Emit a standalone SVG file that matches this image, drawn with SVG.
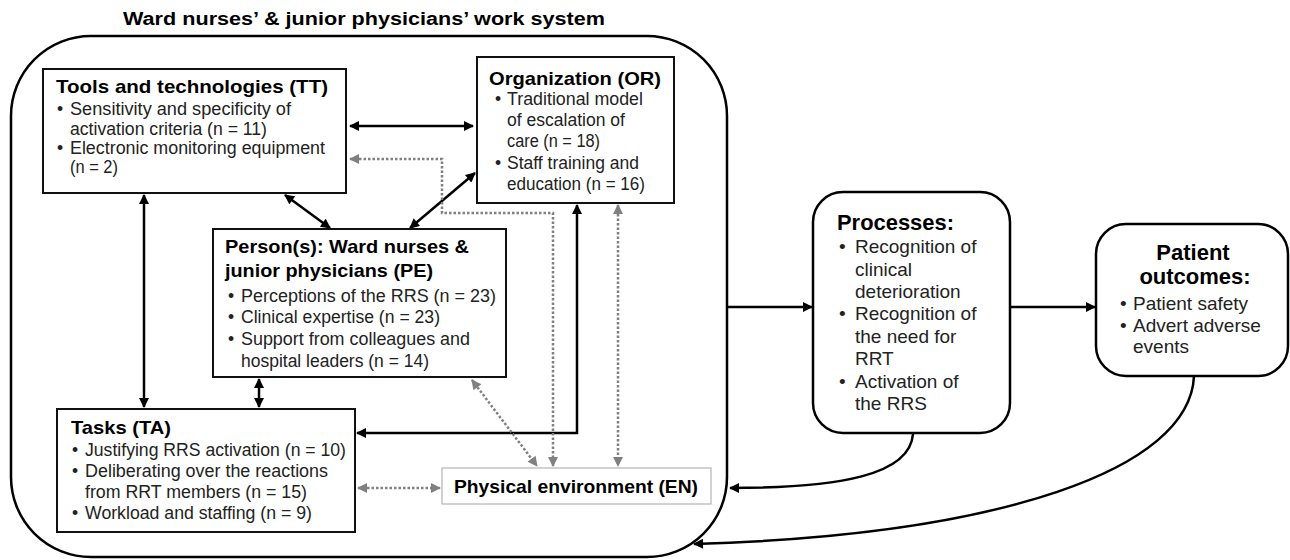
<svg xmlns="http://www.w3.org/2000/svg" width="1290" height="560" viewBox="0 0 1290 560">
<style>
text{font-family:"Liberation Sans","Noto Sans",Arial,sans-serif;fill:#000}
.t{font-weight:bold;font-size:18px}
.h{font-weight:bold;font-size:18.5px}
.b{font-family:"Liberation Sans Narrow","Liberation Sans",Arial,sans-serif;font-size:17.5px;fill:#222}
.ph{font-weight:bold;font-size:22px}
.pb{font-size:19px;fill:#222}
.box{fill:#fff;stroke:#111;stroke-width:2}
.rbox{fill:#fff;stroke:#000;stroke-width:2.5}
.k{fill:none;stroke:#000;stroke-width:2.5}
.g{fill:none;stroke:#808080;stroke-width:2.5;stroke-dasharray:2.5 2}
</style>
<defs>
<marker id="ak" viewBox="0 0 10 10" refX="9" refY="5" markerWidth="11" markerHeight="10" markerUnits="userSpaceOnUse" orient="auto-start-reverse"><path d="M0,0 L10,5 L0,10 Z" fill="#000"/></marker>
<marker id="ag" viewBox="0 0 10 10" refX="9" refY="5" markerWidth="11" markerHeight="10" markerUnits="userSpaceOnUse" orient="auto-start-reverse"><path d="M0,0 L10,5 L0,10 Z" fill="#808080"/></marker>
</defs>
<text class="t" x="123" y="25" textLength="482" lengthAdjust="spacingAndGlyphs">Ward nurses’ &amp; junior physicians’ work system</text>
<g id="system"><rect class="rbox" x="11" y="36" width="716" height="521" rx="80" ry="80"/></g>
<g id="connectors">
<line class="k" x1="350" y1="126" x2="473" y2="126" marker-start="url(#ak)" marker-end="url(#ak)"/>
<line class="k" x1="285" y1="195" x2="330" y2="228" marker-start="url(#ak)" marker-end="url(#ak)"/>
<line class="k" x1="475" y1="173" x2="410" y2="228" marker-start="url(#ak)" marker-end="url(#ak)"/>
<line class="k" x1="144" y1="195" x2="144" y2="407" marker-start="url(#ak)" marker-end="url(#ak)"/>
<line class="k" x1="259" y1="379" x2="259" y2="407" marker-start="url(#ak)" marker-end="url(#ak)"/>
<path class="k" d="M577,205 V433 H357" marker-start="url(#ak)" marker-end="url(#ak)"/>
<path class="g" d="M350,159 H442 V213 H553 V466" marker-start="url(#ag)" marker-end="url(#ag)"/>
<line class="g" x1="618" y1="205" x2="618" y2="466" marker-start="url(#ag)" marker-end="url(#ag)"/>
<line class="g" x1="472" y1="380" x2="537" y2="466" marker-start="url(#ag)" marker-end="url(#ag)"/>
<line class="g" x1="358" y1="488" x2="440" y2="488" marker-start="url(#ag)" marker-end="url(#ag)"/>
<line class="k" x1="727" y1="307" x2="812" y2="307" marker-end="url(#ak)"/>
<line class="k" x1="1010" y1="307" x2="1095" y2="307" marker-end="url(#ak)"/>
<path class="k" d="M913,434 C910,475 840,488 730,488" marker-end="url(#ak)"/>
<path class="k" d="M1194,376 C1190,470 1000,535 694,544" marker-end="url(#ak)"/>
</g>
<g id="tt">
<rect class="box" x="43" y="69" width="303" height="124"/>
<text class="h" x="56" y="93" textLength="272" lengthAdjust="spacingAndGlyphs">Tools and technologies  (TT)</text>
<text class="b" x="57" y="115">•</text><text class="b" x="70" y="115" textLength="221" lengthAdjust="spacingAndGlyphs">Sensitivity and specificity of</text>
<text class="b" x="70" y="135" textLength="197" lengthAdjust="spacingAndGlyphs">activation  criteria (n = 11)</text>
<text class="b" x="57" y="154">•</text><text class="b" x="70" y="154" textLength="255" lengthAdjust="spacingAndGlyphs">Electronic  monitoring  equipment</text>
<text class="b" x="70" y="173" textLength="48" lengthAdjust="spacingAndGlyphs">(n = 2)</text>
</g>
<g id="or">
<rect class="box" x="477" y="57" width="197" height="146"/>
<text class="h" x="489" y="85" textLength="172" lengthAdjust="spacingAndGlyphs">Organization (OR)</text>
<text class="b" x="495" y="105">•</text><text class="b" x="507" y="105" textLength="136" lengthAdjust="spacingAndGlyphs">Traditional  model</text>
<text class="b" x="507" y="126" textLength="118" lengthAdjust="spacingAndGlyphs">of escalation of</text>
<text class="b" x="507" y="147" textLength="93" lengthAdjust="spacingAndGlyphs">care (n = 18)</text>
<text class="b" x="495" y="169">•</text><text class="b" x="507" y="169" textLength="132" lengthAdjust="spacingAndGlyphs">Staff training and</text>
<text class="b" x="507" y="190" textLength="138" lengthAdjust="spacingAndGlyphs">education (n = 16)</text>
</g>
<g id="pe">
<rect class="box" x="213" y="229" width="293" height="148"/>
<text class="h" x="225" y="253" textLength="244" lengthAdjust="spacingAndGlyphs">Person(s): Ward nurses &amp;</text>
<text class="h" x="225" y="277" textLength="208" lengthAdjust="spacingAndGlyphs">junior physicians (PE)</text>
<text class="b" x="228" y="302">•</text><text class="b" x="241" y="302" textLength="255" lengthAdjust="spacingAndGlyphs">Perceptions  of  the RRS (n = 23)</text>
<text class="b" x="228" y="323">•</text><text class="b" x="241" y="323" textLength="199" lengthAdjust="spacingAndGlyphs">Clinical expertise (n = 23)</text>
<text class="b" x="228" y="345">•</text><text class="b" x="241" y="345" textLength="229" lengthAdjust="spacingAndGlyphs">Support from colleagues and</text>
<text class="b" x="241" y="367" textLength="188" lengthAdjust="spacingAndGlyphs">hospital leaders (n = 14)</text>
</g>
<g id="ta">
<rect class="box" x="57" y="409" width="298" height="123"/>
<text class="h" x="71" y="434" textLength="100" lengthAdjust="spacingAndGlyphs">Tasks (TA)</text>
<text class="b" x="72" y="456">•</text><text class="b" x="85" y="456" textLength="261" lengthAdjust="spacingAndGlyphs">Justifying RRS activation (n = 10)</text>
<text class="b" x="72" y="477">•</text><text class="b" x="85" y="477" textLength="243" lengthAdjust="spacingAndGlyphs">Deliberating  over  the reactions</text>
<text class="b" x="85" y="498" textLength="222" lengthAdjust="spacingAndGlyphs">from RRT  members  (n = 15)</text>
<text class="b" x="72" y="519">•</text><text class="b" x="85" y="519" textLength="227" lengthAdjust="spacingAndGlyphs">Workload and staffing  (n = 9)</text>
</g>
<g id="en">
<rect x="442" y="468" width="269" height="36" fill="#fff" stroke="#b4b4b4" stroke-width="1.2"/>
<text class="h" x="454" y="493" textLength="244" lengthAdjust="spacingAndGlyphs">Physical environment (EN)</text>
</g>
<g id="processes">
<rect class="rbox" x="813" y="192" width="197" height="241" rx="30" ry="30"/>
<text class="ph" x="837" y="230" textLength="117" lengthAdjust="spacingAndGlyphs">Processes:</text>
<text class="pb" x="839" y="253">•</text><text class="pb" x="855" y="253">Recognition of</text>
<text class="pb" x="855" y="276">clinical</text>
<text class="pb" x="855" y="298">deterioration</text>
<text class="pb" x="839" y="320">•</text><text class="pb" x="855" y="320">Recognition of</text>
<text class="pb" x="855" y="343">the need for</text>
<text class="pb" x="855" y="365">RRT</text>
<text class="pb" x="839" y="388">•</text><text class="pb" x="855" y="388">Activation of</text>
<text class="pb" x="855" y="410">the RRS</text>
</g>
<g id="outcomes">
<rect class="rbox" x="1096" y="224" width="192" height="152" rx="30" ry="30"/>
<text class="ph" x="1193" y="260" text-anchor="middle">Patient</text>
<text class="ph" x="1195" y="284" text-anchor="middle">outcomes:</text>
<text class="pb" x="1120" y="310">•</text><text class="pb" x="1133" y="310">Patient safety</text>
<text class="pb" x="1120" y="332">•</text><text class="pb" x="1133" y="332">Advert adverse</text>
<text class="pb" x="1133" y="353">events</text>
</g>
</svg>
